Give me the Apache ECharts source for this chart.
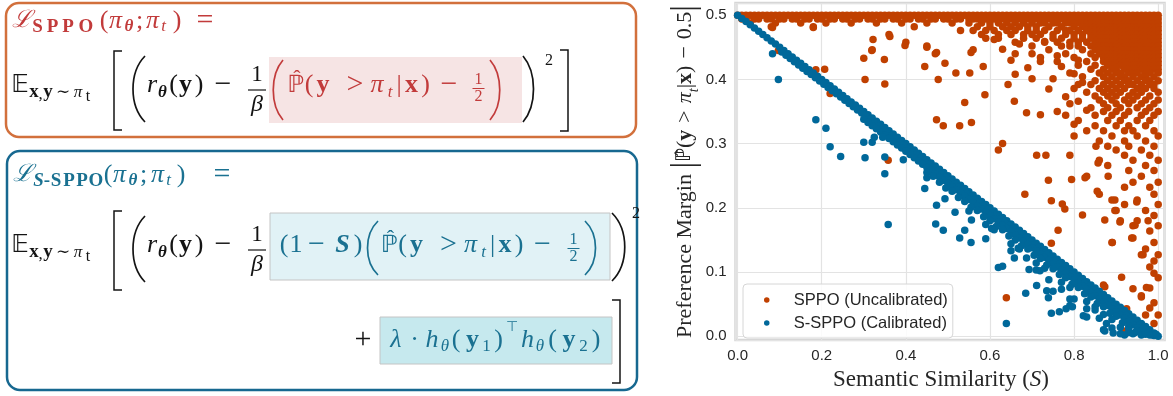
<!DOCTYPE html>
<html>
<head>
<meta charset="utf-8">
<script src="https://cdn.jsdelivr.net/npm/echarts@6/dist/echarts.min.js"></script>
<style>
html, body { margin: 0; padding: 0; background: #fff; }
#chart { width: 1173px; height: 396px; }
</style>
</head>
<body>
<div id="chart"></div>
<script>
// ---------- data ----------
var seriesNames = ['SPPO (Uncalibrated)', 'S-SPPO (Calibrated)'];
var xTicks = [0, 0.2, 0.4, 0.6, 0.8, 1.0];
var yTicks = [0, 0.1, 0.2, 0.3, 0.4, 0.5];

// SPPO: dense rows, each row is [margin, [similarities...]]
var sppoRows = [
  [0.500, [0.00,0.01,0.02,0.03,0.04,0.05,0.06,0.07,0.08,0.09,0.10,0.11,0.12,0.13,0.14,0.15,0.16,0.17,0.18,0.19,0.20,0.21,0.22,0.23,0.24,0.25,0.26,0.27,0.28,0.29,0.30,0.31,0.32,0.33,0.34,0.35,0.36,0.37,0.38,0.39,0.40,0.41,0.42,0.43,0.44,0.45,0.46,0.47,0.48,0.49,0.50,0.51,0.52,0.53,0.54,0.55,0.56,0.57,0.58,0.59,0.60,0.61,0.62,0.63,0.64,0.65,0.66,0.67,0.68,0.69,0.70,0.71,0.72,0.73,0.74,0.75,0.76,0.77,0.78,0.79,0.80,0.81,0.82,0.83,0.84,0.85,0.86,0.87,0.88,0.89,0.90,0.91,0.92,0.93,0.94,0.95,0.96,0.97,0.98,0.99,1.00]],
  [0.494, [0.01,0.02,0.04,0.05,0.07,0.08,0.10,0.11,0.13,0.14,0.16,0.17,0.19,0.20,0.22,0.23,0.25,0.26,0.28,0.29,0.31,0.32,0.34,0.35,0.37,0.38,0.40,0.41,0.43,0.44,0.46,0.47,0.49,0.50,0.52,0.53,0.55,0.56,0.57,0.58,0.59,0.60,0.61,0.62,0.63,0.64,0.65,0.66,0.67,0.68,0.69,0.70,0.71,0.72,0.73,0.74,0.75,0.76,0.77,0.78,0.79,0.80,0.81,0.82,0.83,0.84,0.85,0.86,0.87,0.88,0.89,0.90,0.91,0.92,0.93,0.94,0.95,0.96,0.97,0.98,0.99,1.00]],
  [0.488, [0.03,0.09,0.15,0.21,0.27,0.33,0.39,0.45,0.51,0.55,0.58,0.60,0.62,0.64,0.66,0.68,0.70,0.72,0.73,0.75,0.76,0.78,0.79,0.80,0.81,0.82,0.83,0.84,0.85,0.86,0.87,0.88,0.89,0.90,0.91,0.92,0.93,0.94,0.95,0.96,0.97,0.98,0.99,1.00]],
  [0.482, [0.08,0.18,0.42,0.57,0.60,0.63,0.65,0.67,0.69,0.71,0.74,0.77,0.80,0.82,0.83,0.84,0.85,0.86,0.87,0.88,0.89,0.90,0.91,0.92,0.93,0.94,0.95,0.96,0.97,0.98,0.99,1.00]],
  [0.476, [0.53,0.56,0.59,0.61,0.64,0.66,0.69,0.71,0.73,0.76,0.78,0.79,0.81,0.83,0.84,0.85,0.86,0.87,0.88,0.89,0.90,0.91,0.92,0.93,0.94,0.95,0.96,0.97,0.98,0.99,1.00]],
  [0.470, [0.36,0.58,0.62,0.65,0.68,0.70,0.72,0.75,0.78,0.80,0.82,0.84,0.85,0.86,0.87,0.88,0.89,0.90,0.91,0.92,0.93,0.94,0.95,0.96,0.97,0.98,0.99,1.00]],
  [0.464, [0.59,0.62,0.68,0.71,0.75,0.77,0.80,0.82,0.84,0.85,0.86,0.87,0.88,0.89,0.90,0.91,0.92,0.93,0.94,0.95,0.96,0.97,0.98,0.99,1.00]],
  [0.458, [0.40,0.66,0.73,0.76,0.79,0.81,0.83,0.85,0.86,0.87,0.88,0.89,0.90,0.91,0.92,0.93,0.94,0.95,0.96,0.97,0.98,0.99,1.00]],
  [0.452, [0.45,0.70,0.77,0.81,0.84,0.85,0.86,0.87,0.88,0.89,0.90,0.91,0.92,0.93,0.94,0.95,0.96,0.97,0.98,0.99,1.00]],
  [0.446, [0.10,0.32,0.56,0.74,0.82,0.85,0.86,0.87,0.88,0.89,0.90,0.91,0.92,0.93,0.94,0.95,0.96,0.97,0.98,0.99,1.00]],
  [0.440, [0.47,0.66,0.78,0.84,0.86,0.87,0.88,0.89,0.90,0.91,0.92,0.93,0.94,0.95,0.96,0.97,0.98,0.99,1.00]],
  [0.434, [0.72,0.80,0.85,0.87,0.88,0.89,0.90,0.91,0.92,0.93,0.94,0.95,0.96,0.97,0.98,0.99,1.00]],
  [0.428, [0.76,0.83,0.87,0.88,0.89,0.90,0.91,0.92,0.93,0.94,0.95,0.96,0.97,0.98,0.99,1.00]],
  [0.422, [0.81,0.85,0.88,0.89,0.90,0.91,0.92,0.93,0.94,0.95,0.96,0.97,0.98,0.99,1.00]],
  [0.416, [0.84,0.87,0.89,0.90,0.92,0.93,0.94,0.95,0.96,0.97,0.98,0.99,1.00]],
  [0.410, [0.79,0.86,0.88,0.90,0.91,0.93,0.94,0.95,0.97,0.98,1.00]],
  [0.404, [0.82,0.87,0.89,0.91,0.92,0.94,0.96,0.97,0.99]],
  [0.398, [0.85,0.88,0.90,0.92,0.93,0.95,0.97,0.98,1.00]],
  [0.392, [0.81,0.84,0.87,0.89,0.91,0.93,0.94,0.96,0.98,0.99]],
  [0.386, [0.80,0.86,0.88,0.90,0.92,0.95,0.96,0.97,0.99]],
  [0.380, [0.83,0.87,0.89,0.91,0.94,0.96,1.00]],
  [0.374, [0.85,0.88,0.90,0.93,0.95,0.98]],
  [0.368, [0.86,0.89,0.92,0.94,0.97,1.00]],
  [0.362, [0.79,0.87,0.90,0.93,0.96,0.99]],
  [0.356, [0.84,0.88,0.91,0.95,0.98]],
  [0.350, [0.87,0.90,0.93,0.97,1.00]],
  [0.344, [0.78,0.85,0.89,0.92,0.96,0.99]],
  [0.336, [0.81,0.88,0.91,0.95,0.98]],
  [0.328, [0.85,0.90,0.93,0.97]],
  [0.320, [0.83,0.87,0.92,0.94,0.99]],
  [0.312, [0.80,0.89,0.95,1.00]],
  [0.304, [0.86,0.92,0.97]],
  [0.296, [0.88,0.93,0.99]],
  [0.290, [0.90,0.96]],
  [0.282, [0.92,0.98]],
  [0.274, [0.86,0.94,1.00]],
  [0.266, [0.88,0.97]],
  [0.258, [0.93,0.99]],
  [0.249, [0.83,0.96]],
  [0.240, [0.94,1.00]],
  [0.232, [0.92,0.98]],
  [0.221, [0.86,0.99]],
  [0.212, [0.89,0.95]],
  [0.205, [0.92,1.00]],
  [0.196, [0.90,0.97]],
  [0.188, [0.99]],
  [0.180, [0.91,0.95]],
  [0.172, [0.94,1.00]],
  [0.164, [0.98]],
  [0.153, [0.94]],
  [0.146, [0.89,0.99]],
  [0.136, [0.97]],
  [0.127, [0.96,1.00]],
  [0.117, [0.99]],
  [0.108, [0.98]],
  [0.098, [0.99]],
  [0.091, [1.00]],
  [0.080, [0.87]],
  [0.075, [0.98]],
  [0.063, [0.96]],
  [0.052, [0.99]],
  [0.044, [0.98]],
  [0.033, [0.97,1.00]],
  [0.020, [0.99]]
];

// SPPO: isolated points [similarity, margin]
var sppoScatter = [
  [0.083,0.481],[0.097,0.445],[0.180,0.481],[0.207,0.416],[0.186,0.415],[0.220,0.378],
  [0.300,0.433],[0.303,0.400],[0.319,0.445],[0.322,0.462],[0.349,0.431],[0.350,0.393],
  [0.358,0.274],[0.362,0.467],[0.398,0.453],[0.445,0.420],[0.450,0.450],[0.473,0.442],
  [0.477,0.400],[0.473,0.337],[0.489,0.328],[0.493,0.425],[0.528,0.328],[0.519,0.410],
  [0.540,0.364],[0.555,0.442],[0.556,0.333],[0.552,0.410],[0.588,0.376],[0.584,0.420],
  [0.620,0.290],[0.630,0.300],[0.639,0.060],[0.643,0.392],[0.658,0.366],[0.683,0.221],
  [0.687,0.348],[0.711,0.282],[0.733,0.282],[0.739,0.243],[0.746,0.211],[0.746,0.145],
  [0.762,0.165],[0.772,0.206],[0.778,0.198],[0.790,0.282],[0.794,0.244],[0.820,0.189],
  [0.826,0.247],[0.852,0.296],[0.855,0.226],[0.857,0.270],[0.873,0.181],[0.873,0.077],
  [0.881,0.249],[0.891,0.146],[0.897,0.212],[0.897,0.196],[0.909,0.178],[0.913,0.092],
  [0.917,0.008],[0.925,0.043],[0.937,0.153],[0.940,0.074],[0.945,0.173],[0.949,0.209],
  [0.960,0.061],[0.964,0.127],[0.972,0.076],[0.976,0.180],
  [0.610,0.462],[0.630,0.447],[0.650,0.430],[0.670,0.455],[0.690,0.418],[0.700,0.440],
  [0.720,0.428],[0.730,0.459],[0.750,0.401],[0.760,0.437],[0.770,0.420],[0.790,0.452],
  [0.800,0.409],[0.810,0.430],[0.820,0.395],[0.700,0.401],[0.660,0.408],[0.740,0.385],
  [0.780,0.373],[0.810,0.366],[0.830,0.352],[0.760,0.350],[0.720,0.345],[0.800,0.330]
];

// S-SPPO: points on the calibrated diagonal [similarity, margin]
var ssppoDiagonal = [
  [0.00,0.500],[0.01,0.495],[0.02,0.490],[0.03,0.485],[0.04,0.480],[0.05,0.475],[0.06,0.470],[0.07,0.465],[0.08,0.460],[0.09,0.455],
  [0.10,0.450],[0.11,0.445],[0.12,0.440],[0.13,0.435],[0.14,0.430],[0.15,0.425],[0.16,0.420],[0.17,0.415],[0.18,0.410],[0.19,0.405],
  [0.20,0.400],[0.21,0.395],[0.22,0.390],[0.23,0.385],[0.24,0.380],[0.25,0.375],[0.26,0.370],[0.27,0.365],[0.28,0.360],[0.29,0.355],
  [0.30,0.350],[0.31,0.345],[0.32,0.340],[0.33,0.335],[0.34,0.330],[0.35,0.325],[0.36,0.320],[0.37,0.315],[0.38,0.310],[0.39,0.305],
  [0.40,0.300],[0.41,0.295],[0.42,0.290],[0.43,0.285],[0.44,0.280],[0.45,0.275],[0.46,0.270],[0.47,0.265],[0.48,0.260],[0.49,0.255],
  [0.50,0.250],[0.51,0.245],[0.52,0.240],[0.53,0.235],[0.54,0.230],[0.55,0.225],[0.56,0.220],[0.57,0.215],[0.58,0.210],[0.59,0.205],
  [0.60,0.200],[0.61,0.195],[0.62,0.190],[0.63,0.185],[0.64,0.180],[0.65,0.175],[0.66,0.170],[0.67,0.165],[0.68,0.160],[0.69,0.155],
  [0.70,0.150],[0.71,0.145],[0.72,0.140],[0.73,0.135],[0.74,0.130],[0.75,0.125],[0.76,0.120],[0.77,0.115],[0.78,0.110],[0.79,0.105],
  [0.80,0.100],[0.81,0.095],[0.82,0.090],[0.83,0.085],[0.84,0.080],[0.85,0.075],[0.86,0.070],[0.87,0.065],[0.88,0.060],[0.89,0.055],
  [0.90,0.050],[0.91,0.045],[0.92,0.040],[0.93,0.035],[0.94,0.030],[0.95,0.025],[0.96,0.020],[0.97,0.015],[0.98,0.010],[0.99,0.005],
  [1.00,0.000]
];

// S-SPPO: thick spread just under the diagonal
var ssppoBand = [
  [0.105,0.4425],[0.115,0.4375],[0.125,0.4325],[0.135,0.4275],[0.145,0.4225],[0.155,0.4175],[0.165,0.4125],[0.175,0.4075],[0.185,0.4025],[0.195,0.3975],
  [0.205,0.3925],[0.215,0.3875],[0.225,0.3825],[0.235,0.3775],[0.245,0.3725],[0.255,0.3675],[0.265,0.3625],[0.275,0.3575],[0.285,0.3525],[0.295,0.3475],
  [0.305,0.3425],[0.315,0.3375],[0.325,0.3325],[0.335,0.3275],[0.345,0.3225],[0.355,0.3175],[0.365,0.3125],[0.375,0.3075],[0.385,0.3025],[0.395,0.2975],
  [0.405,0.2925],[0.415,0.2875],[0.425,0.2825],[0.435,0.2775],[0.445,0.2725],[0.455,0.2675],[0.465,0.2625],[0.475,0.2575],[0.485,0.2525],[0.495,0.2475],
  [0.505,0.2425],[0.515,0.2375],[0.525,0.2325],[0.535,0.2275],[0.545,0.2225],[0.555,0.2175],[0.565,0.2125],[0.575,0.2075],[0.585,0.2025],[0.595,0.1975],
  [0.605,0.1925],[0.615,0.1875],[0.625,0.1825],[0.635,0.1775],[0.645,0.1725],[0.655,0.1675],[0.665,0.1625],[0.675,0.1575],[0.685,0.1525],[0.695,0.1475],
  [0.705,0.1425],[0.715,0.1375],[0.725,0.1325],[0.735,0.1275],[0.745,0.1225],[0.755,0.1175],[0.765,0.1125],[0.775,0.1075],[0.785,0.1025],[0.795,0.0975],
  [0.805,0.0925],[0.815,0.0875],[0.825,0.0825],[0.835,0.0775],[0.845,0.0725],[0.855,0.0675],[0.865,0.0625],[0.875,0.0575],[0.885,0.0525],[0.895,0.0475],
  [0.905,0.0425],[0.915,0.0375],[0.925,0.0325],[0.935,0.0275],[0.945,0.0225],[0.955,0.0175],[0.965,0.0125],[0.975,0.0075],[0.985,0.0025],
  [0.30,0.338],[0.31,0.333],[0.32,0.328],[0.33,0.323],[0.34,0.318],[0.35,0.313],[0.36,0.308],[0.37,0.303],[0.38,0.298],[0.39,0.293],
  [0.40,0.288],[0.41,0.283],[0.42,0.278],[0.43,0.273],[0.44,0.268],[0.45,0.263],[0.46,0.258],[0.47,0.253],[0.48,0.248],[0.49,0.243],
  [0.50,0.238],[0.51,0.233],[0.52,0.228],[0.53,0.223],[0.54,0.218],[0.55,0.213],[0.56,0.208],[0.57,0.203],[0.58,0.198],[0.59,0.193],
  [0.60,0.188],[0.61,0.183],[0.62,0.178],[0.63,0.173],[0.64,0.168],[0.65,0.163],[0.66,0.158],[0.67,0.153],[0.68,0.148],[0.69,0.143],
  [0.70,0.138],[0.71,0.133],[0.72,0.128],[0.73,0.123],[0.74,0.118],[0.75,0.113],[0.76,0.108],[0.77,0.103],[0.78,0.098],[0.79,0.093],
  [0.80,0.088],[0.81,0.083],[0.82,0.078],[0.83,0.073],[0.84,0.068],[0.85,0.063],[0.86,0.058],[0.87,0.053],[0.88,0.048],[0.89,0.043],
  [0.90,0.038],[0.91,0.033],[0.92,0.028],[0.93,0.023],[0.94,0.018],[0.95,0.013],[0.96,0.008],[0.97,0.003],
  [0.450,0.255],[0.465,0.249],[0.480,0.240],[0.495,0.231],[0.510,0.226],[0.525,0.216],[0.540,0.210],[0.555,0.201],[0.570,0.196],[0.585,0.186],
  [0.600,0.180],[0.615,0.171],[0.630,0.166],[0.645,0.156],[0.660,0.150],[0.675,0.141],[0.690,0.136],[0.705,0.126],[0.720,0.121],[0.735,0.111],
  [0.750,0.105],[0.765,0.096],[0.780,0.091],[0.795,0.081],[0.810,0.076],[0.825,0.066],[0.840,0.061],[0.855,0.051],[0.870,0.046],[0.885,0.036],
  [0.900,0.031],[0.915,0.021],[0.930,0.016],[0.945,0.006],[0.960,0.002],
  [0.55,0.195],[0.59,0.174],[0.61,0.166],[0.65,0.144],[0.67,0.136],[0.71,0.114],[0.73,0.106],[0.77,0.084],[0.79,0.076],[0.83,0.054],
  [0.85,0.046],[0.87,0.034],[0.89,0.026],[0.91,0.014],[0.93,0.006],
  [0.65,0.133],[0.71,0.103],[0.74,0.088],[0.77,0.073],[0.80,0.058],[0.83,0.043],[0.86,0.028],[0.89,0.013],[0.92,0.002],
  [0.75,0.070],[0.79,0.048],[0.83,0.030],[0.87,0.010],
  [0.91,0.004],[0.93,0.012],[0.94,0.004],[0.95,0.008],[0.96,0.003],[0.97,0.006],[0.98,0.002],[0.99,0.001],[0.995,0.003],[0.965,0.013]
];

// S-SPPO: isolated points below the diagonal
var ssppoOutliers = [
  [0.083,0.440],[0.097,0.400],[0.186,0.337],[0.210,0.324],[0.220,0.295],[0.245,0.280],[0.300,0.302],[0.303,0.278],
  [0.320,0.302],[0.325,0.310],[0.350,0.253],[0.350,0.279],[0.358,0.174],[0.345,0.310],[0.394,0.275],[0.445,0.230],
  [0.450,0.247],[0.473,0.204],[0.471,0.175],[0.489,0.165],[0.493,0.214],[0.528,0.153],[0.540,0.165],[0.555,0.146],
  [0.556,0.181],[0.590,0.152],[0.517,0.193],[0.620,0.107],[0.630,0.109],[0.658,0.122],[0.639,0.020],[0.685,0.067],
  [0.693,0.104],[0.711,0.079],[0.735,0.071],[0.739,0.060],[0.746,0.036],[0.765,0.038],[0.781,0.043],[0.790,0.058],
  [0.796,0.046],[0.822,0.032],[0.873,0.008],[0.893,0.005],[0.850,0.041],[0.877,0.020],[0.667,0.137],[0.604,0.168],
  [0.687,0.122],[0.719,0.102]
];

// ---------- build series data ----------
var sppoData = [];
sppoRows.forEach(function (row) {
  row[1].forEach(function (x) { sppoData.push([x, row[0]]); });
});
sppoData = sppoData.concat(sppoScatter);
var ssppoData = ssppoDiagonal.concat(ssppoBand, ssppoOutliers);

var ORANGE = '#c04000';
var BLUE = '#00689a';
var SERIF = "'Liberation Serif','DejaVu Serif',serif";
var SANS = "'Liberation Sans',Arial,sans-serif";
var INK = '#141414';
var RED = '#c23b3b';
var TEAL = '#1a7191';

function isTick(v, ticks) {
  for (var i = 0; i < ticks.length; i++) {
    if (Math.abs(v - ticks[i]) < 1e-6) return true;
  }
  return false;
}

// ---------- formula panel (graphic elements) ----------
var FONTS = {
  n: '26px ' + SERIF,
  i: 'italic 26px ' + SERIF,
  b: 'bold 26px ' + SERIF,
  bi: 'italic bold 26px ' + SERIF,
  op: '30px ' + SERIF,
  ds: "24px 'DejaVu Sans','DejaVu Serif',sans-serif",
  hat: '22px ' + SERIF,
  L: "italic 24px 'DejaVu Serif',serif",
  s: '17px ' + SERIF,
  si: 'italic 17px ' + SERIF,
  sbi: 'italic bold 17px ' + SERIF,
  cap: 'bold 19px ' + SERIF,
  capi: 'italic bold 19px ' + SERIF,
  sup: "14px 'DejaVu Sans',sans-serif",
  frac: '16px ' + SERIF,
  one: '23px ' + SERIF,
  beta: 'italic 24px ' + SERIF
};

// each glyph: [centre x, dy from row centre, text, font key]
function glyphs(list, cy, color) {
  return list.map(function (g) {
    return {
      type: 'text', x: g[0], y: cy + g[1], z: 20,
      style: { text: g[2], font: FONTS[g[3]], fill: color, textAlign: 'center', textVerticalAlign: 'middle' }
    };
  });
}
function hline(x1, x2, y, color, w) {
  return { type: 'line', z: 20, shape: { x1: x1, y1: y, x2: x2, y2: y }, style: { stroke: color, lineWidth: w || 1.2 } };
}
function paren(x, y1, y2, bulge, color) {
  return {
    type: 'bezierCurve', z: 20,
    shape: { x1: x, y1: y1, x2: x, y2: y2, cpx1: x + bulge, cpy1: y1 + (y2 - y1) * 0.25, cpx2: x + bulge, cpy2: y1 + (y2 - y1) * 0.75 },
    style: { stroke: color, lineWidth: 1.7, fill: null }
  };
}
function bracket(x, y1, y2, dir) {
  return {
    type: 'polyline', z: 20,
    shape: { points: [[x + dir * 8, y1], [x, y1], [x, y2], [x + dir * 8, y2]] },
    style: { stroke: INK, lineWidth: 1.5, fill: null }
  };
}
function box(x, y, w, h, stroke, fill, lw, r) {
  return {
    type: 'rect', z: 5,
    shape: { x: x, y: y, width: w, height: h, r: r || 0 },
    style: { fill: fill, stroke: stroke, lineWidth: lw }
  };
}
function half(cx, axis, color) {
  return glyphs([[cx, -8, '1', 'frac'], [cx, 9, '2', 'frac']], axis, color)
    .concat([hline(cx - 6, cx + 6, axis + 0.5, color, 1)]);
}
// E_{x,y~pi_t} [ ( r_theta(y) - 1/beta
function prefix(axis) {
  var cy = axis - 2.5;
  return glyphs([
    [20, 0, '𝔼', 'ds'],
    [34, 7, 'x', 'cap'], [40.5, 9, ',', 's'], [48, 7, 'y', 'cap'], [63, 7, '∼', 's'], [78, 7, 'π', 'si'], [88, 11, 't', 'frac'],
    [152, 0, 'r', 'i'], [162.5, 7, 'θ', 'sbi'], [173.5, 0, '(', 'n'], [185.5, 0, 'y', 'b'], [199, 0, ')', 'n'],
    [223, 0, '−', 'op']
  ], cy, INK).concat([
    bracket(114, axis - 37, axis + 42, 1),
    paren(145, axis - 32, axis + 34, -16, INK),
    glyphs([[257, -13, '1', 'one']], axis, INK)[0],
    glyphs([[257, 17, 'β', 'beta']], axis, INK)[0],
    hline(248, 266, axis + 2, INK, 1.2)
  ]);
}
// P-hat(y > pi_t | x) -
function prob(x0, cy, color) {
  return glyphs([
    [x0, 0, 'ℙ', 'ds'], [x0 + 1, -6, 'ˆ', 'hat'], [x0 + 13, 0, '(', 'n'], [x0 + 27, 0, 'y', 'b'], [x0 + 59, 0, '>', 'op'],
    [x0 + 81, 0, 'π', 'i'], [x0 + 94, 7, 't', 'si'], [x0 + 103, 0, '|', 'n'], [x0 + 115.5, 0, 'x', 'b'],
    [x0 + 129.5, 0, ')', 'n'], [x0 + 153, 0, '−', 'op']
  ], cy, color);
}

var formulas = [];
// ---- SPPO loss ----
formulas.push(box(6, 3, 630, 134, '#d2703c', null, 2.5, 13));
formulas = formulas.concat(glyphs([
  [22, 0, 'ℒ', 'L'], [37.5, 6, 'S', 'cap'], [52.5, 6, 'P', 'cap'], [68, 6, 'P', 'cap'], [86, 6, 'O', 'cap'],
  [104, 0, '(', 'n'], [115.5, 0, 'π', 'i'], [129, 6, 'θ', 'sbi'], [139.5, 0, ';', 'n'],
  [152.5, 0, 'π', 'i'], [163.5, 6, 't', 'si'], [177, 0, ')', 'n'], [205, 0, '=', 'op']
], 21, RED));
formulas.push(box(269, 57, 253, 66, null, '#f6e4e4', 0));
formulas = formulas.concat(prefix(88));
formulas.push(paren(283, 60, 120, -13, RED));
formulas = formulas.concat(prob(296, 85.5, RED));
formulas = formulas.concat(half(478.5, 88, RED));
formulas.push(paren(490, 60, 120, 13, RED));
formulas.push(paren(523, 56, 122, 14, INK));
formulas = formulas.concat(glyphs([[549, 0, '2', 'frac']], 61, INK));
formulas.push(bracket(568, 50, 131, -1));

// ---- S-SPPO loss ----
formulas.push(box(7, 151, 630, 239, '#176890', null, 2.5, 13));
formulas = formulas.concat(glyphs([
  [22.5, 0, 'ℒ', 'L'], [38.5, 6, 'S', 'capi'], [47, 6, '-', 'cap'], [56, 6, 'S', 'cap'], [69, 6, 'P', 'cap'], [82, 6, 'P', 'cap'], [96, 6, 'O', 'cap'],
  [108, 0, '(', 'n'], [119.5, 0, 'π', 'i'], [133, 6, 'θ', 'sbi'], [143.5, 0, ';', 'n'],
  [157.5, 0, 'π', 'i'], [168.5, 6, 't', 'si'], [181, 0, ')', 'n'], [222, 0, '=', 'op']
], 175, TEAL));
formulas.push(box(270, 213, 340, 67, '#c4c4c4', '#e1f2f6', 1));
formulas = formulas.concat(prefix(248));
formulas = formulas.concat(glyphs([
  [284, 0, '(', 'n'], [296, 0, '1', 'n'], [316.5, 0, '−', 'op'], [342.5, 0, 'S', 'bi'], [358, 0, ')', 'n']
], 245.5, TEAL));
formulas.push(paren(378, 221, 275, -14, TEAL));
formulas = formulas.concat(prob(389.5, 245.5, TEAL));
formulas = formulas.concat(half(573.5, 248, TEAL));
formulas.push(paren(585, 221, 275, 14, TEAL));
formulas.push(paren(612, 213, 281, 17, INK));
formulas = formulas.concat(glyphs([[636, 0, '2', 'frac']], 214, INK));
formulas = formulas.concat(glyphs([[363, 0, '+', 'op']], 340, INK));
formulas.push(box(380, 317, 232, 47, '#c4c4c4', '#c6e9ee', 1));
formulas = formulas.concat(glyphs([
  [396, 0, 'λ', 'i'], [414.5, 0, '·', 'n'], [432, 0, 'h', 'i'], [445, 7, 'θ', 'si'], [456, 0, '(', 'n'],
  [472.5, 0, 'y', 'b'], [486.5, 7, '1', 's'], [498.5, 0, ')', 'n'], [512, -13, '⊤', 'sup'],
  [527.5, 0, 'h', 'i'], [540, 7, 'θ', 'si'], [552.5, 0, '(', 'n'], [569, 0, 'y', 'b'], [583.5, 7, '2', 's'], [596, 0, ')', 'n']
], 340, TEAL));
formulas.push(bracket(620, 300, 383, -1));

// ---------- chart ----------
var chart = echarts.init(document.getElementById('chart'), null, { renderer: 'canvas' });
chart.setOption({
  animation: false,
  backgroundColor: '#fff',
  grid: {
    left: 735.5, top: 3, right: 8.5, bottom: 49.5,
    show: true, borderColor: '#d6d6d6', borderWidth: 2.5, backgroundColor: 'transparent'
  },
  xAxis: {
    type: 'value', min: -0.005, max: 1.015,
    axisLine: { show: false, onZero: false }, axisTick: { show: false },
    splitLine: { lineStyle: { color: '#e3e3e3', width: 1.2 } },
    axisLabel: {
      margin: 8, color: '#262626', fontFamily: SANS, fontSize: 15,
      formatter: function (v) { return isTick(v, xTicks) ? v.toFixed(1) : ''; }
    },
    name: '{t|Semantic Similarity (}{i|S}{t|)}',
    nameLocation: 'middle', nameGap: 25,
    nameTextStyle: {
      padding: [0, 18, 0, 0],
      rich: {
        t: { fontFamily: SERIF, fontSize: 23, color: '#262626' },
        i: { fontFamily: SERIF, fontSize: 23, fontStyle: 'italic', color: '#262626' }
      }
    }
  },
  yAxis: {
    type: 'value', min: -0.006, max: 0.519,
    axisLine: { show: false, onZero: false }, axisTick: { show: false },
    splitLine: { lineStyle: { color: '#e3e3e3', width: 1.2 } },
    axisLabel: {
      margin: 9, color: '#262626', fontFamily: SANS, fontSize: 15,
      formatter: function (v) { return isTick(v, yTicks) ? v.toFixed(1) : ''; }
    },
    name: '{t|Preference Margin }{bar||}{P|ℙ̂}{t|(}{b|y}{op|>}{i|π}{s|t}{t||}{b|x}{t|)}{op|−}{t|0.5}{bar||}',
    nameLocation: 'middle', nameRotate: 90, nameGap: 27,
    nameTextStyle: {
      rich: {
        t: { fontFamily: SERIF, fontSize: 22, color: '#262626' },
        op: { fontFamily: SERIF, fontSize: 22, color: '#262626', padding: [0, 7, 0, 7] },
        i: { fontFamily: SERIF, fontSize: 22, fontStyle: 'italic', color: '#262626' },
        b: { fontFamily: SERIF, fontSize: 22, fontWeight: 'bold', color: '#262626' },
        s: { fontFamily: SERIF, fontSize: 14, fontStyle: 'italic', color: '#262626', verticalAlign: 'bottom', lineHeight: 12 },
        P: { fontFamily: "'DejaVu Sans',sans-serif", fontSize: 20, color: '#262626' },
        bar: { fontFamily: SERIF, fontSize: 33, color: '#262626', lineHeight: 33 }
      }
    }
  },
  legend: {
    orient: 'vertical', left: 743, top: 284,
    data: seriesNames, icon: 'circle',
    itemWidth: 44, itemHeight: 5.5, itemGap: 5,
    padding: [7, 5, 6, 21],
    backgroundColor: 'rgba(255,255,255,0.85)', borderColor: '#d6d6d6', borderWidth: 1, borderRadius: 4,
    textStyle: { fontFamily: SANS, fontSize: 16.5, color: '#262626', lineHeight: 18 }
  },
  series: [
    {
      name: seriesNames[0], type: 'scatter', data: sppoData,
      symbolSize: 7.5, itemStyle: { color: ORANGE, opacity: 1 }
    },
    {
      name: seriesNames[1], type: 'scatter', data: ssppoData,
      symbolSize: 7.5, itemStyle: { color: BLUE, opacity: 1 }
    }
  ],
  graphic: formulas
});
</script>
</body>
</html>
